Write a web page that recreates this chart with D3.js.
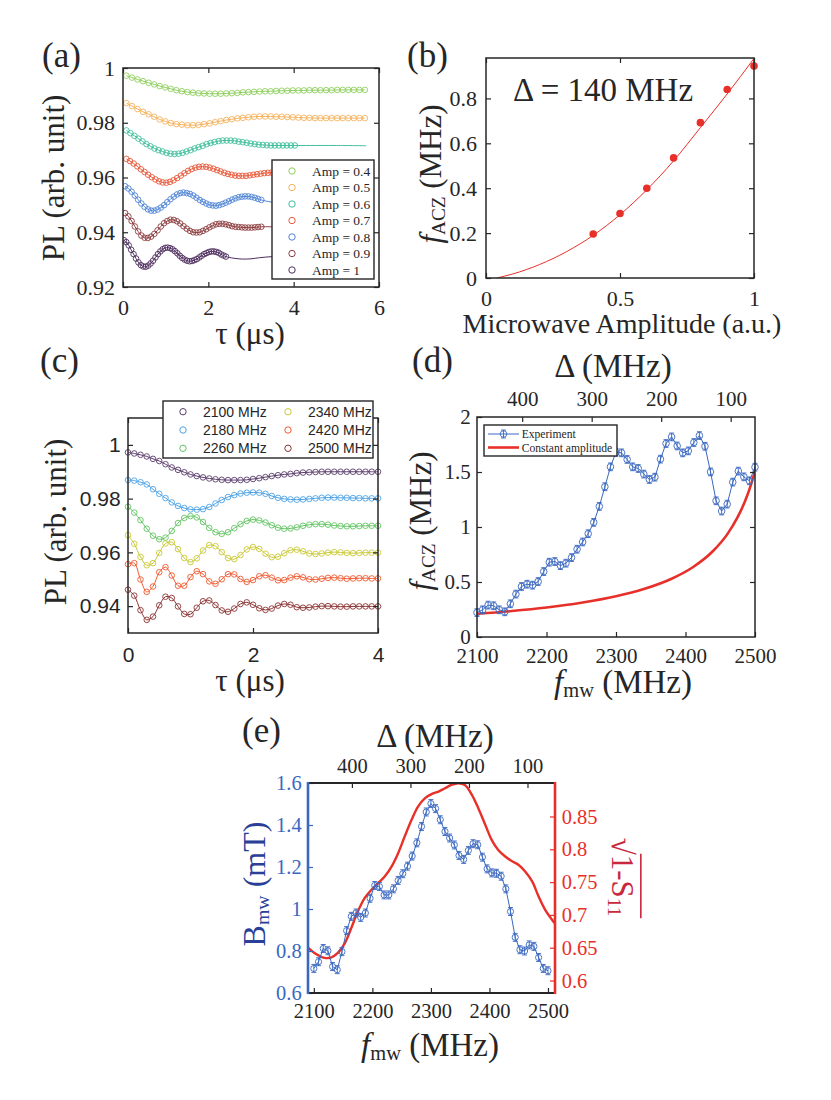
<!DOCTYPE html>
<html>
<head>
<meta charset="utf-8">
<script src="https://cdn.jsdelivr.net/npm/d3@7"></script>
<style>
  body { margin: 0; background: #fff; }
</style>
</head>
<body>
<div id="fig"></div>
<script>
// ---------- (a) Rabi-like traces for several microwave amplitudes ----------
const ampLabels = ["Amp = 0.4", "Amp = 0.5", "Amp = 0.6", "Amp = 0.7", "Amp = 0.8", "Amp = 0.9", "Amp = 1"];
const ampTauStart = [0.08, 0.08, 0.08, 0.08, 0.05, 0.05, 0.02];   // us
const ampTauStep = [0.13, 0.13, 0.094, 0.085, 0.076, 0.076, 0.057]; // us
const amp04 = [0.9972, 0.9965, 0.9958, 0.9952, 0.9946, 0.9940, 0.9934, 0.9929, 0.9924, 0.9919, 0.9915, 0.9912, 0.9910, 0.9908, 0.9907, 0.9906, 0.9906, 0.9906, 0.9907, 0.9908, 0.9909, 0.9911, 0.9912, 0.9913, 0.9914, 0.9915, 0.9915, 0.9916, 0.9917, 0.9917, 0.9918, 0.9918, 0.9918, 0.9919, 0.9919, 0.9919, 0.9919, 0.9919, 0.9920, 0.9920, 0.9920, 0.9920, 0.9920, 0.9920];
const amp05 = [0.9872, 0.9861, 0.9850, 0.9840, 0.9831, 0.9822, 0.9812, 0.9805, 0.9799, 0.9795, 0.9793, 0.9791, 0.9791, 0.9792, 0.9795, 0.9798, 0.9802, 0.9806, 0.9810, 0.9813, 0.9816, 0.9818, 0.9820, 0.9822, 0.9823, 0.9823, 0.9823, 0.9822, 0.9822, 0.9821, 0.9820, 0.9819, 0.9818, 0.9818, 0.9817, 0.9817, 0.9817, 0.9817, 0.9817, 0.9817, 0.9817, 0.9817, 0.9817, 0.9817];
const amp06 = [0.9772, 0.9762, 0.9752, 0.9742, 0.9732, 0.9722, 0.9714, 0.9706, 0.9700, 0.9695, 0.9690, 0.9687, 0.9686, 0.9687, 0.9690, 0.9695, 0.9700, 0.9706, 0.9711, 0.9716, 0.9722, 0.9726, 0.9730, 0.9733, 0.9735, 0.9735, 0.9735, 0.9734, 0.9731, 0.9729, 0.9727, 0.9724, 0.9722, 0.9720, 0.9719, 0.9718, 0.9717, 0.9717, 0.9717, 0.9717, 0.9717, 0.9717, 0.9717];
const amp07 = [0.9668, 0.9660, 0.9651, 0.9641, 0.9630, 0.9620, 0.9610, 0.9601, 0.9593, 0.9586, 0.9582, 0.9581, 0.9584, 0.9590, 0.9598, 0.9607, 0.9616, 0.9624, 0.9631, 0.9636, 0.9639, 0.9640, 0.9639, 0.9636, 0.9632, 0.9627, 0.9622, 0.9617, 0.9613, 0.9610, 0.9607, 0.9606, 0.9606, 0.9606, 0.9608, 0.9610, 0.9612, 0.9614, 0.9616, 0.9617, 0.9618, 0.9618, 0.9618];
const amp08 = [0.9568, 0.9560, 0.9548, 0.9534, 0.9519, 0.9505, 0.9493, 0.9484, 0.9479, 0.9479, 0.9483, 0.9490, 0.9499, 0.9510, 0.9521, 0.9530, 0.9538, 0.9543, 0.9545, 0.9543, 0.9540, 0.9534, 0.9526, 0.9518, 0.9511, 0.9505, 0.9500, 0.9498, 0.9497, 0.9499, 0.9503, 0.9508, 0.9513, 0.9519, 0.9524, 0.9528, 0.9530, 0.9531, 0.9531, 0.9529, 0.9526, 0.9522, 0.9518];
const amp09 = [0.9470, 0.9458, 0.9441, 0.9421, 0.9403, 0.9388, 0.9380, 0.9379, 0.9384, 0.9394, 0.9407, 0.9421, 0.9433, 0.9441, 0.9446, 0.9445, 0.9440, 0.9432, 0.9422, 0.9413, 0.9405, 0.9400, 0.9399, 0.9400, 0.9405, 0.9411, 0.9418, 0.9424, 0.9429, 0.9431, 0.9431, 0.9429, 0.9426, 0.9422, 0.9420, 0.9419, 0.9418, 0.9417, 0.9417, 0.9417, 0.9418, 0.9419, 0.9420];
const amp10 = [0.9371, 0.9364, 0.9352, 0.9336, 0.9320, 0.9304, 0.9290, 0.9280, 0.9275, 0.9274, 0.9278, 0.9286, 0.9296, 0.9308, 0.9320, 0.9330, 0.9338, 0.9343, 0.9344, 0.9342, 0.9338, 0.9331, 0.9323, 0.9314, 0.9306, 0.9300, 0.9296, 0.9294, 0.9295, 0.9298, 0.9302, 0.9308, 0.9314, 0.9320, 0.9324, 0.9328, 0.9330, 0.9330, 0.9328, 0.9325, 0.9319, 0.9315, 0.9311];
// fit continues past the last measured point
const ampTailTau = [[], [], [4.4, 5.0, 5.7], [], [3.45, 3.7, 4.0], [3.45, 3.8], [2.6, 2.8, 3.0, 3.2, 3.5, 3.8]];
const ampTailPL = [[], [], [0.9717, 0.9717, 0.9716], [], [0.9511, 0.9507, 0.9509], [0.9420, 0.9419], [0.9305, 0.9302, 0.9303, 0.9307, 0.9311, 0.9312]];

// ---------- (b) ACZ frequency vs amplitude ----------
const bAmp = [0.4, 0.5, 0.6, 0.7, 0.8, 0.9, 1.0];
const bFreq = [0.196, 0.287, 0.400, 0.535, 0.692, 0.840, 0.944];
const bFitAmp = [0.04, 0.1, 0.2, 0.3, 0.4, 0.5, 0.6, 0.7, 0.8, 0.9, 1.0];
const bFitFreq = [0, 0.018, 0.060, 0.117, 0.190, 0.282, 0.393, 0.522, 0.670, 0.820, 0.978];

// ---------- (c) traces for several microwave frequencies ----------
const cLabels = ["2100 MHz", "2180 MHz", "2260 MHz", "2340 MHz", "2420 MHz", "2500 MHz"];
const cTau = d3.range(0, 4.0001, 0.1);
const c2100 = [0.9972, 0.9968, 0.9963, 0.9957, 0.9948, 0.9940, 0.9928, 0.9916, 0.9907, 0.9898, 0.9890, 0.9884, 0.9879, 0.9875, 0.9872, 0.9870, 0.9869, 0.9869, 0.9869, 0.9870, 0.9873, 0.9876, 0.9880, 0.9884, 0.9887, 0.9890, 0.9892, 0.9895, 0.9897, 0.9898, 0.9899, 0.9900, 0.9900, 0.9900, 0.9900, 0.9900, 0.9900, 0.9900, 0.9900, 0.9900, 0.9900];
const c2180 = [0.9869, 0.9867, 0.9861, 0.9853, 0.9835, 0.9818, 0.9802, 0.9786, 0.9773, 0.9765, 0.9760, 0.9759, 0.9761, 0.9769, 0.9782, 0.9795, 0.9806, 0.9813, 0.9819, 0.9822, 0.9823, 0.9822, 0.9818, 0.9810, 0.9803, 0.9799, 0.9797, 0.9796, 0.9797, 0.9799, 0.9801, 0.9803, 0.9804, 0.9804, 0.9803, 0.9803, 0.9802, 0.9802, 0.9801, 0.9801, 0.9801];
const c2260 = [0.9770, 0.9748, 0.9720, 0.9688, 0.9662, 0.9649, 0.9655, 0.9680, 0.9709, 0.9728, 0.9735, 0.9730, 0.9713, 0.9691, 0.9675, 0.9669, 0.9675, 0.9690, 0.9705, 0.9717, 0.9722, 0.9719, 0.9711, 0.9701, 0.9692, 0.9688, 0.9689, 0.9693, 0.9699, 0.9703, 0.9705, 0.9705, 0.9703, 0.9700, 0.9698, 0.9697, 0.9697, 0.9698, 0.9699, 0.9699, 0.9699];
const c2340 = [0.9664, 0.9632, 0.9583, 0.9552, 0.9560, 0.9598, 0.9633, 0.9638, 0.9612, 0.9579, 0.9564, 0.9578, 0.9607, 0.9627, 0.9623, 0.9601, 0.9579, 0.9575, 0.9590, 0.9611, 0.9620, 0.9613, 0.9595, 0.9582, 0.9584, 0.9597, 0.9608, 0.9610, 0.9604, 0.9596, 0.9594, 0.9596, 0.9599, 0.9601, 0.9600, 0.9598, 0.9597, 0.9598, 0.9599, 0.9599, 0.9599];
const c2420 = [0.9556, 0.9560, 0.9499, 0.9453, 0.9473, 0.9526, 0.9545, 0.9514, 0.9476, 0.9476, 0.9508, 0.9530, 0.9519, 0.9492, 0.9483, 0.9500, 0.9519, 0.9518, 0.9501, 0.9490, 0.9497, 0.9511, 0.9515, 0.9506, 0.9496, 0.9497, 0.9506, 0.9511, 0.9507, 0.9500, 0.9499, 0.9502, 0.9505, 0.9506, 0.9504, 0.9502, 0.9503, 0.9504, 0.9504, 0.9503, 0.9503];
const c2500 = [0.9461, 0.9439, 0.9385, 0.9349, 0.9361, 0.9403, 0.9435, 0.9430, 0.9399, 0.9371, 0.9370, 0.9394, 0.9418, 0.9421, 0.9404, 0.9384, 0.9379, 0.9391, 0.9408, 0.9414, 0.9405, 0.9392, 0.9386, 0.9391, 0.9402, 0.9408, 0.9405, 0.9396, 0.9394, 0.9395, 0.9398, 0.9400, 0.9400, 0.9399, 0.9398, 0.9398, 0.9399, 0.9399, 0.9399, 0.9399, 0.9399];

// ---------- (d) ACZ frequency vs microwave frequency ----------
const fGrid = d3.range(2100, 2501, 8);   // MHz
const dFreq = [0.222, 0.247, 0.290, 0.284, 0.247, 0.229, 0.302, 0.390, 0.459, 0.480, 0.471, 0.504, 0.595, 0.680, 0.686, 0.649, 0.671, 0.722, 0.798, 0.864, 0.939, 1.042, 1.187, 1.366, 1.547, 1.680, 1.674, 1.614, 1.547, 1.532, 1.481, 1.432, 1.453, 1.617, 1.759, 1.819, 1.737, 1.674, 1.692, 1.768, 1.831, 1.734, 1.501, 1.238, 1.145, 1.208, 1.408, 1.508, 1.456, 1.420, 1.544];
const dErr = 0.035;
const constF = [2100, 2150, 2200, 2250, 2300, 2340, 2380, 2410, 2440, 2460, 2475, 2485, 2492, 2500];
const constFreq = [0.211, 0.236, 0.268, 0.311, 0.370, 0.436, 0.530, 0.632, 0.784, 0.933, 1.089, 1.225, 1.342, 1.508];
const deltaZero = 2565;   // Delta = deltaZero - f_mw
const deltaTicks = [400, 300, 200, 100];

// ---------- (e) B field and reflection vs microwave frequency ----------
const bField = [0.717, 0.749, 0.812, 0.801, 0.726, 0.711, 0.797, 0.897, 0.965, 0.981, 0.960, 0.981, 1.051, 1.112, 1.107, 1.067, 1.067, 1.096, 1.136, 1.168, 1.204, 1.252, 1.315, 1.393, 1.462, 1.502, 1.478, 1.425, 1.369, 1.338, 1.305, 1.255, 1.236, 1.279, 1.311, 1.306, 1.247, 1.191, 1.172, 1.170, 1.156, 1.096, 0.988, 0.865, 0.806, 0.800, 0.829, 0.822, 0.769, 0.717, 0.706];
const eErr = 0.019;
const s11F = [2090, 2101, 2118, 2130, 2141, 2153, 2164, 2175, 2187, 2198, 2210, 2221, 2233, 2244, 2255, 2267, 2278, 2290, 2301, 2313, 2324, 2335, 2347, 2358, 2370, 2381, 2393, 2404, 2415, 2427, 2438, 2450, 2461, 2473, 2484, 2495, 2511];
const s11V = [0.650, 0.642, 0.6345, 0.6354, 0.642, 0.657, 0.680, 0.705, 0.726, 0.738, 0.7485, 0.7585, 0.774, 0.794, 0.819, 0.845, 0.865, 0.878, 0.884, 0.888, 0.893, 0.898, 0.9005, 0.898, 0.883, 0.8625, 0.837, 0.814, 0.799, 0.789, 0.782, 0.776, 0.766, 0.751, 0.728, 0.708, 0.6877];

// ---------- fonts: take the first installed family of each kind ----------
function pickFont(cands, generic) {
  const ctx = document.createElement("canvas").getContext("2d");
  const probe = "abcdefghijklmnopqrstuvwxyzABCDEFGHIJKLM0123456789";
  ctx.font = "60px monospace";
  const base = ctx.measureText(probe).width;
  for (const c of cands) {
    ctx.font = `60px "${c}", monospace`;
    if (Math.abs(ctx.measureText(probe).width - base) > 0.5) return `"${c}", ${generic}`;
  }
  return generic;
}
const SERIF = pickFont(["Liberation Serif", "Times New Roman", "Tinos", "DejaVu Serif", "Noto Serif"], "serif");
const SANS = pickFont(["Liberation Sans", "Arial", "Arimo", "DejaVu Sans"], "sans-serif");

// ---------- styling ----------
const INK = "#262626";
const ampColors = ["#8fcf5e", "#f5b25c", "#3fbf9d", "#e8593a", "#4f85d6", "#8c3c3e", "#4d2e5e"];
const cColors = ["#5a3d6b", "#4da3e6", "#62c462", "#c9c835", "#f0592f", "#8b3232"];
const BLUE = "#3a68c0";
const RED = "#e8302a";
const fmt = d3.format("~g");

const svg = d3.select("#fig").append("svg").attr("width", 831).attr("height", 1100);
svg.append("rect").attr("width", 831).attr("height", 1100).attr("fill", "#fff");

function styleAxis(sel, font, size, color) {
  sel.attr("font-family", font).attr("font-size", size);
  sel.select(".domain").remove();
  sel.selectAll(".tick line").attr("stroke", color).attr("stroke-width", 1.2);
  sel.selectAll(".tick text").attr("fill", color);
  return sel;
}

function clipFor(id, x, y) {
  const [x0, x1] = x.range(), [y1, y0] = y.range();
  svg.append("clipPath").attr("id", id).append("rect")
    .attr("x", x0).attr("y", y0).attr("width", x1 - x0).attr("height", y1 - y0);
  return svg.append("g").attr("clip-path", `url(#${id})`);
}

function box(x, y, w) {
  const [x0, x1] = x.range(), [y1, y0] = y.range();
  svg.append("rect").attr("x", x0).attr("y", y0).attr("width", x1 - x0).attr("height", y1 - y0)
    .attr("fill", "none").attr("stroke", INK).attr("stroke-width", w || 1.5);
}

// text made of parts; sub parts are small and dropped
function label(x, y, parts, o) {
  const size = o.size;
  const g = svg.append("g").attr("transform", `translate(${x},${y}) rotate(${o.rotate || 0})`);
  const t = g.append("text").attr("text-anchor", o.anchor || "middle")
    .attr("font-family", o.font || SERIF).attr("font-size", size).attr("fill", o.color || INK);
  let shift = 0;
  parts.forEach(p => {
    const sp = t.append("tspan").text(p.t);
    if (p.i) sp.attr("font-style", "italic");
    if (p.sub) {
      sp.attr("font-size", size * 0.62).attr("dy", size * 0.12);
      shift = size * 0.12;
    } else if (shift) {
      sp.attr("dy", -shift);
      shift = 0;
    }
  });
  return { g, t, size };
}

const panelLabel = (x, y, s) => label(x, y, [{ t: s }], { size: 35, anchor: "start" });

// ======================= (a) =======================
const xA = d3.scaleLinear().domain([0, 6]).range([123, 379]);
const yA = d3.scaleLinear().domain([0.92, 1]).range([287, 68]);
const plotA = clipFor("clipA", xA, yA);
const lineA = d3.line().x(d => xA(d.t)).y(d => yA(d.v)).curve(d3.curveCatmullRom);

[amp04, amp05, amp06, amp07, amp08, amp09, amp10].forEach((vals, i) => {
  const pts = vals.map((v, k) => ({ t: ampTauStart[i] + k * ampTauStep[i], v }));
  const fit = pts.concat(ampTailTau[i].map((t, k) => ({ t, v: ampTailPL[i][k] })));
  plotA.append("path").datum(fit).attr("d", lineA)
    .attr("fill", "none").attr("stroke", ampColors[i]).attr("stroke-width", 1);
  plotA.append("g").selectAll("circle").data(pts).join("circle")
    .attr("cx", d => xA(d.t)).attr("cy", d => yA(d.v)).attr("r", 2.8)
    .attr("fill", "none").attr("stroke", ampColors[i]).attr("stroke-width", 0.9);
});

styleAxis(svg.append("g").attr("transform", "translate(0,287)")
  .call(d3.axisBottom(xA).tickValues([0, 2, 4, 6]).tickSize(-5).tickPadding(12.4).tickFormat(fmt)), SERIF, 22, INK);
styleAxis(svg.append("g").attr("transform", "translate(0,68)")
  .call(d3.axisTop(xA).tickValues([0, 2, 4, 6]).tickSize(-5).tickFormat("")), SERIF, 22, INK);
styleAxis(svg.append("g").attr("transform", "translate(123,0)")
  .call(d3.axisLeft(yA).tickValues([0.92, 0.94, 0.96, 0.98, 1]).tickSize(-5).tickPadding(8).tickFormat(fmt)), SERIF, 22, INK);
styleAxis(svg.append("g").attr("transform", "translate(379,0)")
  .call(d3.axisRight(yA).tickValues([0.92, 0.94, 0.96, 0.98, 1]).tickSize(-5).tickFormat("")), SERIF, 22, INK);
box(xA, yA);

// legend (a)
const legA = svg.append("g");
legA.append("rect").attr("x", 272).attr("y", 160).attr("width", 102).attr("height", 119)
  .attr("fill", "#fff").attr("stroke", INK).attr("stroke-width", 1.4);
ampLabels.forEach((s, i) => {
  const cy = 171 + i * 16.5;
  legA.append("circle").attr("cx", 292).attr("cy", cy).attr("r", 3.2)
    .attr("fill", "none").attr("stroke", ampColors[i]).attr("stroke-width", 1);
  legA.append("text").attr("x", 312).attr("y", cy + 4.6).attr("font-family", SERIF)
    .attr("font-size", 13.5).attr("fill", INK).text(s);
});

label(64, 178, [{ t: "PL (arb. unit)" }], { size: 31, rotate: -90 });
label(250, 344, [{ t: "τ (μs)" }], { size: 31 });
panelLabel(42, 67, "(a)");

// ======================= (b) =======================
const xB = d3.scaleLinear().domain([0, 1]).range([486, 754]);
const yB = d3.scaleLinear().domain([0, 0.98]).range([278, 58]);
const plotB = clipFor("clipB", xB, yB);
plotB.append("path").datum(bFitAmp.map((a, i) => [a, bFitFreq[i]]))
  .attr("d", d3.line().x(d => xB(d[0])).y(d => yB(d[1])).curve(d3.curveMonotoneX))
  .attr("fill", "none").attr("stroke", RED).attr("stroke-width", 1);
svg.append("g").selectAll("circle").data(bAmp).join("circle")
  .attr("cx", d => xB(d)).attr("cy", (d, i) => yB(bFreq[i])).attr("r", 3.8).attr("fill", RED);

styleAxis(svg.append("g").attr("transform", "translate(0,278)")
  .call(d3.axisBottom(xB).tickValues([0, 0.5, 1]).tickSize(-5).tickPadding(12).tickFormat(fmt)), SERIF, 22, INK);
styleAxis(svg.append("g").attr("transform", "translate(0,58)")
  .call(d3.axisTop(xB).tickValues([0, 0.5, 1]).tickSize(-5).tickFormat("")), SERIF, 22, INK);
styleAxis(svg.append("g").attr("transform", "translate(486,0)")
  .call(d3.axisLeft(yB).tickValues([0, 0.2, 0.4, 0.6, 0.8]).tickSize(-5).tickPadding(9).tickFormat(fmt)), SERIF, 22, INK);
styleAxis(svg.append("g").attr("transform", "translate(754,0)")
  .call(d3.axisRight(yB).tickValues([0, 0.2, 0.4, 0.6, 0.8]).tickSize(-5).tickFormat("")), SERIF, 22, INK);
box(xB, yB);

label(513, 101, [{ t: "Δ = 140 MHz" }], { size: 33, anchor: "start" });
label(441, 174, [{ t: "f", i: true }, { t: "ACZ", sub: true }, { t: " (MHz)" }], { size: 31, rotate: -90 });
label(622, 333, [{ t: "Microwave Amplitude (a.u.)" }], { size: 28 });
panelLabel(407, 67, "(b)");

// ======================= (c) =======================
const xC = d3.scaleLinear().domain([0, 4]).range([128, 378]);
const yC = d3.scaleLinear().domain([0.93, 1.01]).range([633, 418]);
const plotC = svg.append("g");
const lineC = d3.line().x(d => xC(d.t)).y(d => yC(d.v)).curve(d3.curveCatmullRom);

[c2100, c2180, c2260, c2340, c2420, c2500].forEach((vals, i) => {
  const pts = vals.map((v, k) => ({ t: cTau[k], v }));
  plotC.append("path").datum(pts).attr("d", lineC)
    .attr("fill", "none").attr("stroke", cColors[i]).attr("stroke-width", 1);
  plotC.append("g").selectAll("circle").data(pts).join("circle")
    .attr("cx", d => xC(d.t)).attr("cy", d => yC(d.v)).attr("r", 2.8)
    .attr("fill", "none").attr("stroke", cColors[i]).attr("stroke-width", 0.9);
});

styleAxis(svg.append("g").attr("transform", "translate(0,633)")
  .call(d3.axisBottom(xC).tickValues([0, 2, 4]).tickSize(-5).tickPadding(14.5).tickFormat(fmt)), SANS, 21, INK);
styleAxis(svg.append("g").attr("transform", "translate(0,418)")
  .call(d3.axisTop(xC).tickValues([0, 2, 4]).tickSize(-5).tickFormat("")), SANS, 21, INK);
styleAxis(svg.append("g").attr("transform", "translate(128,0)")
  .call(d3.axisLeft(yC).tickValues([0.94, 0.96, 0.98, 1]).tickSize(-5).tickPadding(7.3).tickFormat(fmt)), SANS, 21, INK);
styleAxis(svg.append("g").attr("transform", "translate(378,0)")
  .call(d3.axisRight(yC).tickValues([0.94, 0.96, 0.98, 1]).tickSize(-5).tickFormat("")), SANS, 21, INK);
box(xC, yC);

// legend (c): two columns
const legC = svg.append("g");
legC.append("rect").attr("x", 163).attr("y", 401).attr("width", 210).attr("height", 57)
  .attr("fill", "#fff").attr("stroke", INK).attr("stroke-width", 1.4);
cLabels.forEach((s, i) => {
  const col = Math.floor(i / 3), row = i % 3;
  const cx = 183 + col * 105, cy = 411.7 + row * 18.3;
  legC.append("circle").attr("cx", cx).attr("cy", cy).attr("r", 3.2)
    .attr("fill", "none").attr("stroke", cColors[i]).attr("stroke-width", 1);
  legC.append("text").attr("x", cx + 20).attr("y", cy + 5).attr("font-family", SANS)
    .attr("font-size", 14).attr("fill", INK).text(s);
});

label(66, 522, [{ t: "PL (arb. unit)" }], { size: 31, rotate: -90 });
label(250, 691, [{ t: "τ (μs)" }], { size: 31 });
panelLabel(40, 372, "(c)");

// ======================= (d) =======================
const xD = d3.scaleLinear().domain([2100, 2500]).range([477, 755]);
const yD = d3.scaleLinear().domain([0, 2]).range([637, 417]);
const dDelta = d3.scaleLinear().domain([deltaZero - 2100, deltaZero - 2500]).range([477, 755]);
const plotD = clipFor("clipD", xD, yD);

plotD.append("path").datum(constF.map((f, i) => [f, constFreq[i]]))
  .attr("d", d3.line().x(d => xD(d[0])).y(d => yD(d[1])).curve(d3.curveMonotoneX))
  .attr("fill", "none").attr("stroke", RED).attr("stroke-width", 2.6);

function errMarkers(g, xs, ys, x, y, err, color, r) {
  const m = g.append("g").attr("stroke", color).attr("fill", "none").attr("stroke-width", 0.9);
  xs.forEach((f, i) => {
    const cx = x(f), cy = y(ys[i]), t = y(ys[i] + err), b = y(ys[i] - err);
    m.append("line").attr("x1", cx).attr("x2", cx).attr("y1", t).attr("y2", b);
    m.append("line").attr("x1", cx - 2.5).attr("x2", cx + 2.5).attr("y1", t).attr("y2", t);
    m.append("line").attr("x1", cx - 2.5).attr("x2", cx + 2.5).attr("y1", b).attr("y2", b);
    m.append("circle").attr("cx", cx).attr("cy", cy).attr("r", r);
  });
}

const dG = svg.append("g");
dG.append("path").datum(fGrid.map((f, i) => [f, dFreq[i]]))
  .attr("d", d3.line().x(d => xD(d[0])).y(d => yD(d[1])))
  .attr("fill", "none").attr("stroke", BLUE).attr("stroke-width", 1);
errMarkers(dG, fGrid, dFreq, xD, yD, dErr, BLUE, 3.3);

styleAxis(svg.append("g").attr("transform", "translate(0,637)")
  .call(d3.axisBottom(xD).tickValues([2100, 2200, 2300, 2400, 2500]).tickSize(-5).tickPadding(11.5).tickFormat(fmt)), SERIF, 21, INK);
styleAxis(svg.append("g").attr("transform", "translate(0,417)")
  .call(d3.axisTop(dDelta).tickValues(deltaTicks).tickSize(-5).tickPadding(11).tickFormat(fmt)), SERIF, 21, INK);
styleAxis(svg.append("g").attr("transform", "translate(477,0)")
  .call(d3.axisLeft(yD).tickValues([0, 0.5, 1, 1.5, 2]).tickSize(-5).tickPadding(6.3).tickFormat(fmt)), SERIF, 21, INK);
styleAxis(svg.append("g").attr("transform", "translate(755,0)")
  .call(d3.axisRight(yD).tickValues([0.5, 1, 1.5]).tickSize(-5).tickFormat("")), SERIF, 21, INK);
box(xD, yD);

// legend (d)
const legD = svg.append("g");
legD.append("rect").attr("x", 484).attr("y", 425).attr("width", 133).attr("height", 31)
  .attr("fill", "#fff").attr("stroke", INK).attr("stroke-width", 1.4);
legD.append("line").attr("x1", 488).attr("x2", 519).attr("y1", 434).attr("y2", 434)
  .attr("stroke", BLUE).attr("stroke-width", 1);
const legMark = legD.append("g").attr("stroke", BLUE).attr("fill", "none").attr("stroke-width", 0.9);
legMark.append("line").attr("x1", 503.5).attr("x2", 503.5).attr("y1", 430).attr("y2", 438);
legMark.append("line").attr("x1", 501).attr("x2", 506).attr("y1", 430).attr("y2", 430);
legMark.append("line").attr("x1", 501).attr("x2", 506).attr("y1", 438).attr("y2", 438);
legMark.append("circle").attr("cx", 503.5).attr("cy", 434).attr("r", 3.3);
legD.append("line").attr("x1", 488).attr("x2", 519).attr("y1", 447.5).attr("y2", 447.5)
  .attr("stroke", RED).attr("stroke-width", 2.6);
legD.append("text").attr("x", 521.7).attr("y", 438).attr("font-family", SERIF)
  .attr("font-size", 11.6).attr("fill", INK).text("Experiment");
legD.append("text").attr("x", 521.7).attr("y", 451.5).attr("font-family", SERIF)
  .attr("font-size", 11.6).attr("fill", INK).text("Constant amplitude");

label(613, 377, [{ t: "Δ (MHz)" }], { size: 33 });
label(431, 521, [{ t: "f", i: true }, { t: "ACZ", sub: true }, { t: " (MHz)" }], { size: 31, rotate: -90 });
label(623, 693, [{ t: "f", i: true }, { t: "mw", sub: true }, { t: " (MHz)" }], { size: 33 });
panelLabel(412, 372, "(d)");

// ======================= (e) =======================
const xE = d3.scaleLinear().domain([2090, 2512]).range([308, 555]);
const yEL = d3.scaleLinear().domain([0.6, 1.6]).range([993, 783]);
const yER = d3.scaleLinear().domain([0.581, 0.901]).range([993, 783]);
const eDelta = d3.scaleLinear().domain([deltaZero - 2090, deltaZero - 2512]).range([308, 555]);
const plotE = clipFor("clipE", xE, yEL);

const eG = svg.append("g");
eG.append("path").datum(fGrid.map((f, i) => [f, bField[i]]))
  .attr("d", d3.line().x(d => xE(d[0])).y(d => yEL(d[1])))
  .attr("fill", "none").attr("stroke", BLUE).attr("stroke-width", 1);
errMarkers(eG, fGrid, bField, xE, yEL, eErr, BLUE, 3.1);
plotE.append("path").datum(s11F.map((f, i) => [f, s11V[i]]))
  .attr("d", d3.line().x(d => xE(d[0])).y(d => yER(d[1])).curve(d3.curveCatmullRom))
  .attr("fill", "none").attr("stroke", RED).attr("stroke-width", 2.4);

styleAxis(svg.append("g").attr("transform", "translate(0,993)")
  .call(d3.axisBottom(xE).tickValues([2100, 2200, 2300, 2400, 2500]).tickSize(-5).tickPadding(10.4).tickFormat(fmt)), SERIF, 20.5, INK);
styleAxis(svg.append("g").attr("transform", "translate(0,783)")
  .call(d3.axisTop(eDelta).tickValues(deltaTicks).tickSize(-5).tickPadding(10).tickFormat(fmt)), SERIF, 20.5, INK);
styleAxis(svg.append("g").attr("transform", "translate(308,0)")
  .call(d3.axisLeft(yEL).tickValues([0.6, 0.8, 1, 1.2, 1.4, 1.6]).tickSize(-5).tickPadding(6.3).tickFormat(fmt)), SERIF, 20.5, BLUE);
styleAxis(svg.append("g").attr("transform", "translate(555,0)")
  .call(d3.axisRight(yER).tickValues([0.6, 0.65, 0.7, 0.75, 0.8, 0.85]).tickSize(-5).tickPadding(6.7).tickFormat(fmt)), SERIF, 20.5, RED);

// frame: coloured y axes, dark x axes
svg.append("line").attr("x1", 308).attr("x2", 555).attr("y1", 783).attr("y2", 783).attr("stroke", INK).attr("stroke-width", 2);
svg.append("line").attr("x1", 308).attr("x2", 555).attr("y1", 993).attr("y2", 993).attr("stroke", INK).attr("stroke-width", 2);
svg.append("line").attr("x1", 308).attr("x2", 308).attr("y1", 782).attr("y2", 994).attr("stroke", BLUE).attr("stroke-width", 2.6);
svg.append("line").attr("x1", 555).attr("x2", 555).attr("y1", 782).attr("y2", 994).attr("stroke", RED).attr("stroke-width", 2.6);

label(435, 747, [{ t: "Δ (MHz)" }], { size: 33 });
label(430, 1056, [{ t: "f", i: true }, { t: "mw", sub: true }, { t: " (MHz)" }], { size: 33 });
label(265, 884, [{ t: "B" }, { t: "mw", sub: true }, { t: " (mT)" }], { size: 32, rotate: -90, color: "#2a3f98" });

// right label: square root with overline over 1-S11
const sq = label(612, 877, [{ t: "√" }, { t: "1-S" }, { t: "11", sub: true }], { size: 31, rotate: 90, color: "#c8283c" });
const sqNode = sq.t.node();
const sqLen = sqNode.getComputedTextLength();
const sqW = sqNode.getSubStringLength(0, 1);
sq.g.append("line").attr("x1", -sqLen / 2 + sqW - 1).attr("x2", sqLen / 2 + 2)
  .attr("y1", -sq.size * 0.93).attr("y2", -sq.size * 0.93)
  .attr("stroke", "#c8283c").attr("stroke-width", 1.6);

panelLabel(242, 742, "(e)");
</script>
</body>
</html>
